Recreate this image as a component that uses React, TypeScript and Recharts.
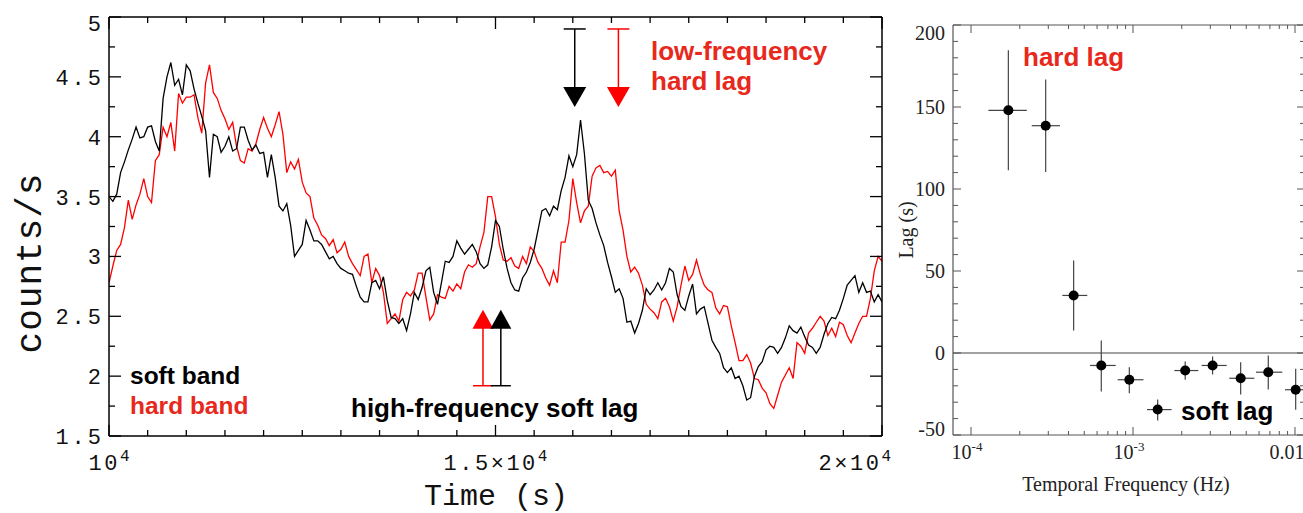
import { LineChart, Line, XAxis, YAxis, ReferenceDot, ScatterChart, Scatter, ErrorBar, ReferenceLine } from 'recharts'

// light curve, 50 s bins from 1e4 s
const binStart = 10000
const binWidth = 50
const softBand = [
  3.50, 3.46, 3.52, 3.70, 3.79, 3.89, 3.98, 4.08, 3.99, 4.00,
  4.08, 4.09, 3.96, 3.88, 4.32, 4.50, 4.62, 4.43, 4.48, 4.35,
  4.60, 4.55, 4.40, 4.28, 4.17, 4.05, 3.66, 4.02, 4.00, 3.87,
  3.92, 4.00, 3.88, 3.90, 4.08, 4.08, 3.97, 3.89, 3.93, 3.86,
  3.87, 3.66, 3.85, 3.66, 3.42, 3.38, 3.44, 3.26, 3.00, 3.05,
  3.10, 3.30, 3.22, 3.13, 3.13, 3.10, 3.04, 2.98, 3.00, 2.94,
  2.90, 2.88, 2.86, 2.85, 2.75, 2.66, 2.62, 2.62, 2.78, 2.80,
  2.73, 2.83, 2.63, 2.49, 2.48, 2.44, 2.48, 2.38, 2.52, 2.70,
  2.64, 2.74, 2.88, 2.91, 2.70, 2.60, 2.78, 2.96, 2.95, 3.00,
  3.13, 3.07, 3.02, 3.06, 3.10, 3.04, 2.94, 2.90, 2.93, 3.08,
  3.30, 3.25, 3.06, 2.90, 2.78, 2.72, 2.71, 2.82, 2.87, 2.95,
  3.06, 3.22, 3.38, 3.40, 3.34, 3.42, 3.39, 3.55, 3.66, 3.84,
  3.75, 3.85, 4.14, 3.86, 3.47, 3.40, 3.28, 3.18, 3.09, 2.95,
  2.83, 2.70, 2.73, 2.65, 2.45, 2.46, 2.36, 2.44, 2.55, 2.73,
  2.68, 2.72, 2.78, 2.72, 2.78, 2.90, 2.87, 2.68, 2.58, 2.55,
  2.67, 2.77, 2.52, 2.56, 2.58, 2.44, 2.30, 2.24, 2.19, 2.07,
  2.03, 2.07, 1.98, 2.00, 1.92, 1.80, 1.82, 2.00, 2.08, 2.12,
  2.22, 2.25, 2.24, 2.19, 2.24, 2.32, 2.42, 2.38, 2.36, 2.41,
  2.33, 2.26, 2.24, 2.19, 2.24, 2.35, 2.44, 2.49, 2.48, 2.55,
  2.65, 2.76, 2.80, 2.84, 2.70, 2.78, 2.70, 2.71, 2.62, 2.68, 2.62,
]
const hardBand = [
  2.78, 2.92, 3.05, 3.10, 3.24, 3.47, 3.31, 3.43, 3.52, 3.65,
  3.50, 3.45, 3.80, 3.85, 4.08, 4.00, 4.12, 3.88, 4.36, 4.28,
  4.33, 4.33, 4.35, 4.16, 4.03, 4.45, 4.60, 4.37, 4.32, 4.22,
  4.15, 4.06, 4.12, 3.92, 3.80, 3.78, 3.90, 3.88, 3.94, 4.06,
  4.16, 4.07, 4.00, 4.10, 4.21, 4.02, 3.70, 3.79, 3.73, 3.81,
  3.62, 3.53, 3.50, 3.32, 3.26, 3.18, 3.15, 3.09, 3.14, 3.03,
  3.06, 3.12, 3.00, 2.94, 2.89, 2.84, 3.00, 3.02, 2.78, 2.90,
  2.84, 2.70, 2.44, 2.48, 2.52, 2.46, 2.64, 2.70, 2.67, 2.72,
  2.86, 2.86, 2.66, 2.47, 2.52, 2.68, 2.66, 2.65, 2.75, 2.71,
  2.77, 2.73, 2.87, 2.93, 2.91, 2.94, 3.08, 3.20, 3.50, 3.50,
  3.33, 3.10, 2.97, 2.96, 2.99, 2.92, 2.90, 3.00, 2.94, 3.08,
  3.04, 2.95, 2.90, 2.82, 2.76, 2.88, 2.78, 3.12, 3.12, 3.30,
  3.65, 3.45, 3.28, 3.38, 3.42, 3.67, 3.74, 3.76, 3.70, 3.71,
  3.67, 3.72, 3.38, 3.22, 3.00, 2.87, 2.91, 2.86, 2.76, 2.60,
  2.56, 2.53, 2.48, 2.62, 2.65, 2.58, 2.46, 2.58, 2.76, 2.92,
  2.80, 2.85, 2.97, 2.85, 2.76, 2.72, 2.70, 2.57, 2.52, 2.59,
  2.58, 2.42, 2.28, 2.13, 2.13, 2.18, 2.11, 1.98, 1.97, 1.90,
  1.86, 1.77, 1.73, 1.84, 1.95, 2.01, 2.07, 1.98, 2.28, 2.25,
  2.19, 2.36, 2.40, 2.45, 2.50, 2.46, 2.34, 2.40, 2.33, 2.45,
  2.43, 2.34, 2.28, 2.36, 2.44, 2.50, 2.50, 2.65, 2.88, 3.00, 2.96,
]

const timeTicks = Array.from({ length: 21 }, (_, i) => 10000 + 500 * i)
const timeTickLabels = [
  { t: 10000, base: '10', exp: '4' },
  { t: 15000, base: '1.5×10', exp: '4' },
  { t: 20000, base: '2×10', exp: '4' },
]
const countTicks = Array.from({ length: 15 }, (_, i) => 1.5 + 0.25 * i)

// lag markers on the light curve (time, count level)
const downArrows = [
  { t: 16025, y: 4.9, color: '#000' },
  { t: 16590, y: 4.9, color: '#ff0000' },
]
const upArrows = [
  { t: 14838, y: 1.92, color: '#ff0000' },
  { t: 15069, y: 1.92, color: '#000' },
]

// lag-frequency spectrum
const lagFreq = [1.70e-4, 2.89e-4, 4.30e-4, 6.37e-4, 9.49e-4, 1.42e-3, 2.10e-3, 3.10e-3, 4.62e-3, 6.84e-3, 1.01e-2]
const freqLow = [1.28e-4, 2.37e-4, 3.66e-4, 5.43e-4, 8.04e-4, 1.22e-3, 1.80e-3, 2.65e-3, 3.93e-3, 5.74e-3, 8.67e-3]
const freqHigh = [2.21e-4, 3.54e-4, 5.22e-4, 7.82e-4, 1.16e-3, 1.73e-3, 2.53e-3, 3.79e-3, 5.61e-3, 8.35e-3, 1.15e-2]
const lagValue = [148, 138.6, 35.1, -7.6, -16.3, -34.5, -10.7, -7.6, -15.4, -11.7, -22.4]
const lagHigh = [184.6, 166.7, 56.4, 7.6, -8.7, -28.4, -5.2, -2.1, -5.6, -1.5, -9.6]
const lagLow = [111.4, 110.4, 13.7, -23.5, -24.5, -41.2, -16.3, -13.1, -25.3, -22.3, -34.6]

const freqTicks = [
  1e-4, 2e-4, 3e-4, 4e-4, 5e-4, 6e-4, 7e-4, 8e-4, 9e-4,
  1e-3, 2e-3, 3e-3, 4e-3, 5e-3, 6e-3, 7e-3, 8e-3, 9e-3, 1e-2,
]
const freqTickLabels = [
  { f: 1e-4, base: '10', exp: '-4' },
  { f: 1e-3, base: '10', exp: '-3' },
  { f: 1e-2, base: '0.01', exp: '' },
]
const lagTicks = Array.from({ length: 26 }, (_, i) => -50 + 10 * i)

const lightCurve = softBand.map((s, i) => ({ t: binStart + binWidth * i, soft: s, hard: hardBand[i] }))
const lagData = lagFreq.map((f, i) => ({
  f,
  lag: lagValue[i],
  fErr: [f - freqLow[i], freqHigh[i] - f],
  lagErr: [lagValue[i] - lagLow[i], lagHigh[i] - lagValue[i]],
}))

const mono = "'Liberation Mono', 'DejaVu Sans Mono', monospace"
const serif = "'Liberation Serif', 'DejaVu Serif', serif"
const sans = "'Liberation Sans', Arial, sans-serif"
const textRed = '#e8281c'

// plot box sizes, so the bottom/left tick renderers can mirror ticks on top/right
const lcPlotW = 773
const lcPlotH = 419
const lagPlotW = 352
const lagPlotH = 410

const TimeTick = (props: any) => {
  const { x, y, payload } = props
  const lab = timeTickLabels.find((l) => l.t === payload.value)
  const major = payload.value % 5000 === 0
  const len = major ? 11 : 6
  const top = y - lcPlotH
  let anchor = 'middle'
  let tx = x
  if (payload.value === 20000) { anchor = 'end'; tx = x + 9 }
  return (
    <g>
      <line x1={x} y1={y} x2={x} y2={y - len} stroke='#000' strokeWidth={1.3} />
      <line x1={x} y1={top} x2={x} y2={top + (major ? 12 : 6)} stroke='#000' strokeWidth={1.3} />
      {lab && (
        <text x={tx} y={y + 34} textAnchor={anchor} fontFamily={mono} fontSize={22} letterSpacing={2.5} fill='#111'>
          {lab.base}
          <tspan dy={-9} fontSize={16} letterSpacing={0}>{lab.exp}</tspan>
        </text>
      )}
    </g>
  )
}

const CountTick = (props: any) => {
  const { x, y, payload } = props
  const v = payload.value
  const major = Math.abs(v * 2 - Math.round(v * 2)) < 1e-9
  const len = major ? 12 : 6
  const right = x + lcPlotW
  const shift = v === 5 ? 6 : 0
  return (
    <g>
      <line x1={x} y1={y} x2={x + len} y2={y} stroke='#000' strokeWidth={1.3} />
      <line x1={right} y1={y} x2={right - len} y2={y} stroke='#000' strokeWidth={1.3} />
      {major && (
        <text x={x - 5} y={y + 8 + shift} textAnchor='end' fontFamily={mono} fontSize={22} letterSpacing={3} fill='#111'>
          {String(v)}
        </text>
      )}
    </g>
  )
}

const isDecade = (v: number) => Math.abs(Math.log10(v) - Math.round(Math.log10(v))) < 1e-6

const FreqTick = (props: any) => {
  const { x, y, payload } = props
  const lab = freqTickLabels.find((l) => Math.abs(l.f - payload.value) < l.f * 1e-6)
  const len = isDecade(payload.value) ? 8 : 4
  const top = y - lagPlotH
  return (
    <g>
      <line x1={x} y1={y} x2={x} y2={y - len} stroke='#555' strokeWidth={1} />
      <line x1={x} y1={top} x2={x} y2={top + len} stroke='#555' strokeWidth={1} />
      {lab && (
        <text x={lab.exp ? x - 4 : x - 8} y={y + 24} textAnchor='middle' fontFamily={serif} fontSize={20} fill='#222'>
          {lab.base}
          {lab.exp && <tspan dy={-8} fontSize={13}>{lab.exp}</tspan>}
        </text>
      )}
    </g>
  )
}

const LagTick = (props: any) => {
  const { x, y, payload } = props
  const v = payload.value
  const major = v % 50 === 0
  const len = major ? 8 : 5
  const right = x + lagPlotW
  const shift = v === 200 ? 8 : v === -50 ? -6 : 0
  return (
    <g>
      <line x1={x} y1={y} x2={x + len} y2={y} stroke='#555' strokeWidth={1} />
      <line x1={right} y1={y} x2={right - len} y2={y} stroke='#555' strokeWidth={1} />
      {major && (
        <text x={x - 8} y={y + 7 + shift} textAnchor='end' fontFamily={serif} fontSize={20} fill='#222'>
          {String(v)}
        </text>
      )}
    </g>
  )
}

const DownArrow = ({ cx, cy, color }: any) => (
  <g>
    <line x1={cx - 11} y1={cy} x2={cx + 11} y2={cy} stroke={color} strokeWidth={1.5} />
    <line x1={cx} y1={cy} x2={cx} y2={cy + 60} stroke={color} strokeWidth={1.5} />
    <polygon points={`${cx - 11.5},${cy + 58} ${cx + 11.5},${cy + 58} ${cx},${cy + 78}`} fill={color} />
  </g>
)

const UpArrow = ({ cx, cy, color }: any) => (
  <g>
    <line x1={cx - 10} y1={cy} x2={cx + 10} y2={cy} stroke={color} strokeWidth={1.5} />
    <line x1={cx} y1={cy} x2={cx} y2={cy - 58} stroke={color} strokeWidth={1.5} />
    <polygon points={`${cx - 10.5},${cy - 57} ${cx + 10.5},${cy - 57} ${cx},${cy - 76}`} fill={color} />
  </g>
)

const LightCurvePanel = () => (
  <LineChart width={900} height={513} data={lightCurve} margin={{ top: 16, right: 17, bottom: 0, left: 0 }}>
    <XAxis xAxisId='b' dataKey='t' type='number' domain={[10000, 20000]} allowDataOverflow ticks={timeTicks}
      interval={0} height={77} tickSize={0} tickMargin={0} tickLine={false}
      axisLine={{ stroke: '#000', strokeWidth: 1.5 }} tick={<TimeTick />} />
    <XAxis xAxisId='t' orientation='top' type='number' domain={[10000, 20000]} allowDataOverflow
      height={1} tick={false} tickLine={false} axisLine={{ stroke: '#000', strokeWidth: 1.5 }} />
    <YAxis yAxisId='l' type='number' domain={[1.5, 5]} allowDataOverflow ticks={countTicks} interval={0}
      width={109} tickSize={0} tickMargin={0} tickLine={false}
      axisLine={{ stroke: '#000', strokeWidth: 1.5 }} tick={<CountTick />} />
    <YAxis yAxisId='r' orientation='right' type='number' domain={[1.5, 5]} allowDataOverflow
      width={1} tick={false} tickLine={false} axisLine={{ stroke: '#000', strokeWidth: 1.5 }} />
    <Line xAxisId='b' yAxisId='l' type='linear' dataKey='hard' stroke='#ff0000' strokeWidth={1.3}
      dot={false} isAnimationActive={false} />
    <Line xAxisId='b' yAxisId='l' type='linear' dataKey='soft' stroke='#000' strokeWidth={1.3}
      dot={false} isAnimationActive={false} />
    {downArrows.map((a, i) => (
      <ReferenceDot key={'d' + i} xAxisId='b' yAxisId='l' x={a.t} y={a.y}
        shape={(p: any) => <DownArrow cx={p.cx} cy={p.cy} color={a.color} />} />
    ))}
    {upArrows.map((a, i) => (
      <ReferenceDot key={'u' + i} xAxisId='b' yAxisId='l' x={a.t} y={a.y}
        shape={(p: any) => <UpArrow cx={p.cx} cy={p.cy} color={a.color} />} />
    ))}
  </LineChart>
)

const LagPanel = () => (
  <ScatterChart width={420} height={513} margin={{ top: 24, right: 14, bottom: 0, left: 0 }}>
    <XAxis xAxisId='b' dataKey='f' type='number' scale='log' domain={[7.74e-5, 1.153e-2]} allowDataOverflow
      ticks={freqTicks} interval={0} height={78} tickSize={0} tickMargin={0} tickLine={false}
      axisLine={{ stroke: '#555', strokeWidth: 1.2 }} tick={<FreqTick />} />
    <XAxis xAxisId='t' orientation='top' type='number' scale='log' domain={[7.74e-5, 1.153e-2]} allowDataOverflow
      height={1} tick={false} tickLine={false} axisLine={{ stroke: '#555', strokeWidth: 1.2 }} />
    <YAxis yAxisId='l' dataKey='lag' type='number' domain={[-50, 200]} allowDataOverflow ticks={lagTicks}
      interval={0} width={53} tickSize={0} tickMargin={0} tickLine={false}
      axisLine={{ stroke: '#555', strokeWidth: 1.2 }} tick={<LagTick />} />
    <YAxis yAxisId='r' orientation='right' type='number' domain={[-50, 200]} allowDataOverflow
      width={1} tick={false} tickLine={false} axisLine={{ stroke: '#555', strokeWidth: 1.2 }} />
    <ReferenceLine xAxisId='b' yAxisId='l' y={0} stroke='#444' strokeWidth={1.2} />
    <Scatter xAxisId='b' yAxisId='l' data={lagData} isAnimationActive={false}
      shape={(p: any) => <circle cx={p.cx} cy={p.cy} r={5} fill='#000' />}>
      <ErrorBar dataKey='lagErr' direction='y' width={0} stroke='#444' strokeWidth={1.2} />
      <ErrorBar dataKey='fErr' direction='x' width={0} stroke='#444' strokeWidth={1.2} />
    </Scatter>
  </ScatterChart>
)

export default function App() {
  return (
    <div style={{ position: 'absolute', left: 0, top: 0, width: 1303, height: 513, overflow: 'hidden', background: '#fff' }}>
      <div style={{ position: 'absolute', left: 0, top: 0 }}>
        <LightCurvePanel />
      </div>
      <div style={{ position: 'absolute', left: 900, top: 0 }}>
        <LagPanel />
      </div>
      <svg width={1303} height={513} style={{ position: 'absolute', left: 0, top: 0, pointerEvents: 'none' }}>
        <text transform='rotate(-90, 41, 263)' x={41} y={263} textAnchor='middle' fontFamily={mono} fontSize={36} letterSpacing={1} fill='#111'>counts/s</text>
        <text x={496} y={505} textAnchor='middle' fontFamily={mono} fontSize={30} fill='#111'>Time (s)</text>
        <g fontFamily={sans} fontWeight='bold'>
          <text x={651} y={60} fontSize={26} fill={textRed}>low-frequency</text>
          <text x={651} y={90} fontSize={26} fill={textRed}>hard lag</text>
          <text x={130} y={384} fontSize={24.5} fill='#000'>soft band</text>
          <text x={130} y={414} fontSize={24.5} fill={textRed}>hard band</text>
          <text x={351} y={417} fontSize={26} fill='#000'>high-frequency soft lag</text>
          <text x={1023} y={66} fontSize={26} fill={textRed}>hard lag</text>
          <text x={1181} y={420} fontSize={26} fill='#000'>soft lag</text>
        </g>
        <text transform='rotate(-90, 913, 230)' x={913} y={230} textAnchor='middle' fontFamily={serif} fontSize={20} fill='#222'>Lag (s)</text>
        <text x={1126} y={491} textAnchor='middle' fontFamily={serif} fontSize={20} fill='#222'>Temporal Frequency (Hz)</text>
      </svg>
    </div>
  )
}
